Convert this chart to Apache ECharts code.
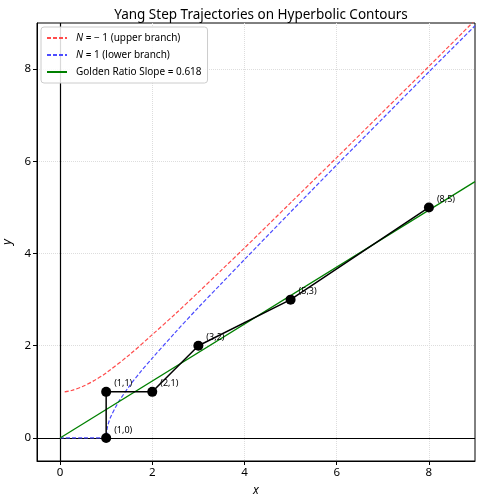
<!DOCTYPE html>
<html style="height: 100%">
<head>
    <meta charset="utf-8">
</head>
<body style="height: 100%; margin: 0">
<div id="container" style="width: 482px; height: 500px"></div>
<script type="text/javascript" src="https://cdn.jsdelivr.net/npm/echarts@6/dist/echarts.min.js"></script>
<script type="text/javascript">
    // values
    var upperX = [0.1, 0.25, 0.5, 0.75, 1, 1.5, 2, 2.5, 3, 3.5, 4, 5, 6, 7, 8, 9];
    var upperY = [1.0, 1.03, 1.12, 1.25, 1.41, 1.8, 2.24, 2.69, 3.16, 3.64, 4.12, 5.1, 6.08, 7.07, 8.06, 9.06];

    var lowerX = [0, 0.5, 1, 1.02, 1.05, 1.1, 1.2, 1.3, 1.5, 1.75, 2, 2.5, 3, 3.5, 4, 5, 6, 7, 8, 9];
    var lowerY = [0, 0, 0, 0.2, 0.32, 0.46, 0.66, 0.83, 1.12, 1.44, 1.73, 2.29, 2.83, 3.35, 3.87, 4.9, 5.92, 6.93, 7.94, 8.94];

    var goldenX = [0, 9];
    var goldenY = [0, 5.56];

    var stepX = [1, 1, 2, 3, 5, 8];
    var stepY = [0, 1, 1, 2, 3, 5];
    var stepLabels = ['(1,0)', '(1,1)', '(2,1)', '(3,2)', '(5,3)', '(8,5)'];

    var ticks = [0, 2, 4, 6, 8];

    function pairs(xs, ys) {
        var out = [];
        for (var i = 0; i < xs.length; i++) out.push([xs[i], ys[i]]);
        return out;
    }

    var stepData = [];
    for (var i = 0; i < stepX.length; i++) {
        stepData.push({ value: [stepX[i], stepY[i]], name: stepLabels[i] });
    }

    var font = 'Noto Sans';
    var dom = document.getElementById('container');
    var myChart = echarts.init(dom);

    function axis(name, pos) {
        return {
            type: 'value',
            min: -0.5,
            max: 9,
            interval: 2,
            position: pos,
            name: name,
            nameLocation: 'middle',
            nameGap: pos === 'bottom' ? 24 : 22,
            nameTextStyle: { fontFamily: font, fontSize: 12, fontStyle: 'italic', color: '#000' },
            axisLine: { show: true, onZero: false, lineStyle: { color: '#000', width: 1 } },
            axisTick: { show: true, length: 4, lineStyle: { color: '#000' }, customValues: ticks },
            axisLabel: { fontFamily: font, fontSize: 11.5, color: '#000', customValues: ticks, margin: 6 },
            splitLine: { show: true, lineStyle: { color: '#dddddd', type: 'dotted', width: 1 } },
            minorTick: { show: false }
        };
    }

    var option = {
        animation: false,
        title: {
            text: 'Yang Step Trajectories on Hyperbolic Contours',
            left: 256,
            textAlign: 'center',
            top: 3,
            textStyle: { fontFamily: font, fontSize: 13.5, fontWeight: 'normal', color: '#000' }
        },
        grid: {
            left: 37, right: 7, top: 23, bottom: 39,
            outerBoundsMode: 'none', containLabel: false,
            show: true, borderColor: '#000', borderWidth: 1, backgroundColor: 'transparent'
        },
        legend: {
            left: 41, top: 27, orient: 'vertical',
            itemWidth: 20, itemHeight: 10, itemGap: 7,
            padding: [6, 6, 6, 5],
            borderColor: '#cccccc', borderWidth: 1, borderRadius: 3,
            backgroundColor: 'rgba(255,255,255,0.85)',
            itemStyle: { opacity: 0 },
            data: ['upper', 'lower', 'golden'],
            formatter: function (n) {
                if (n === 'upper') return '{i|N} = \u2212 1 (upper branch)';
                if (n === 'lower') return '{i|N} = 1 (lower branch)';
                return 'Golden Ratio Slope = 0.618';
            },
            textStyle: {
                fontFamily: font, fontSize: 10, color: '#000', padding: [0, 0, 0, 4],
                rich: { i: { fontFamily: font, fontSize: 10, fontStyle: 'italic', color: '#000' } }
            }
        },
        xAxis: axis('x', 'bottom'),
        yAxis: axis('y', 'left'),
        series: [
            {
                name: 'upper', type: 'line', data: pairs(upperX, upperY),
                smooth: 0.3, showSymbol: false, symbol: 'none', clip: true,
                lineStyle: { color: '#ff4c4c', width: 1.2, type: [4, 2] },
                itemStyle: { color: '#ff4c4c' },
                z: 3
            },
            {
                name: 'lower', type: 'line', data: pairs(lowerX, lowerY),
                smooth: 0.3, showSymbol: false, symbol: 'none', clip: true,
                lineStyle: { color: '#4c4cff', width: 1.2, type: [4, 2] },
                itemStyle: { color: '#4c4cff' },
                z: 3
            },
            {
                name: 'golden', type: 'line', data: pairs(goldenX, goldenY),
                showSymbol: false, symbol: 'none', clip: true,
                lineStyle: { color: '#008000', width: 1.3 },
                itemStyle: { color: '#008000' },
                z: 4,
                markLine: {
                    silent: true, symbol: 'none', label: { show: false },
                    lineStyle: { color: '#000', width: 1.2, type: 'solid' },
                    data: [{ xAxis: 0 }, { yAxis: 0 }],
                    z: 2
                }
            },
            {
                name: 'steps', type: 'line', data: stepData,
                symbol: 'circle', symbolSize: 10, showSymbol: true,
                lineStyle: { color: '#000', width: 1.5 },
                itemStyle: { color: '#000' },
                label: {
                    show: true, position: 'right', distance: 3, offset: [0, -8],
                    formatter: '{b}', fontFamily: font, fontSize: 9, color: '#000'
                },
                z: 5
            }
        ]
    };
    myChart.setOption(option);
</script>
</body>
</html>
